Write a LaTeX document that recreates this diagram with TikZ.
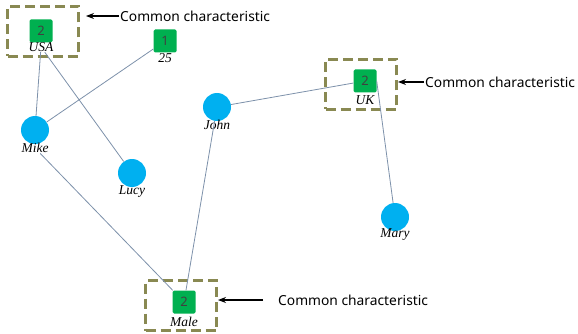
\documentclass[tikz,border=0pt]{standalone}
\usepackage{fontspec}
\setmainfont{Liberation Serif}
\newfontfamily\notefont{Noto Sans}
\usetikzlibrary{positioning,arrows.meta}

\definecolor{pblue}{RGB}{0,176,240}
\definecolor{agreen}{RGB}{0,176,80}
\definecolor{olivebox}{RGB}{137,137,82}
\definecolor{linkgray}{RGB}{125,145,170}

\begin{document}
\begin{tikzpicture}[x=1pt,y=-1pt,node distance=18pt,on grid,
	person/.style={circle,fill=pblue,minimum size=28pt,inner sep=0pt},
	attr/.style={rectangle,rounded corners=1.5pt,fill=agreen,minimum size=23pt,inner sep=0pt,text=black!75,font=\notefont\fontsize{13}{13}\selectfont},
	tag/.style={inner sep=0.5pt,font=\itshape\fontsize{13.5}{13.5}\selectfont},
	common/.style={draw=olivebox,line width=3pt,dash pattern=on 10pt off 5pt,minimum width=71pt,minimum height=50pt},
	note/.style={anchor=west,inner sep=1pt,font=\notefont\fontsize{13.8}{13.8}\selectfont},
	link/.style={draw=linkgray,line width=0.8pt},
	arr/.style={-{Stealth[length=8pt,width=6pt]},line width=1.2pt}]
	\useasboundingbox (0,0) rectangle (578,334);
	% boxes round the shared values
	\node[common] (usabox) at (43,31.5) {};
	\node[common] (ukbox) at (361,84.5) {};
	\node[common] (malebox) at (181,305.5) {};
	% attribute values
	\node[attr] (usa) at (41,31) {2};
	\node[tag,below=16pt of usa] (usal) {USA};
	\node[attr] (age) at (165,41) {1};
	\node[tag,below=17pt of age] (agel) {25};
	\node[attr] (uk) at (365,81) {2};
	\node[tag,below=19pt of uk] (ukl) {UK};
	\node[attr] (male) at (184,302) {2};
	\node[tag,below=20pt of male] (malel) {Male};
	% people
	\node[person] (mike) at (35,130) {};
	\node[tag,below of=mike] (mikel) {Mike};
	\node[person] (lucy) at (132,173) {};
	\node[tag,below=19pt of lucy] (lucyl) {Lucy};
	\node[person] (john) at (217,107) {};
	\node[tag,below of=john] (johnl) {John};
	\node[person] (mary) at (395,217) {};
	\node[tag,below of=mary] (maryl) {Mary};
	\path[link] (usal) edge (mike)
		(usal) edge (lucy)
		(age) edge (mike)
		(mikel) edge (male)
		(john) edge (uk)
		(uk.east) edge (mary)
		(john) edge (male);
	% notes
	\node[note] (c1) at (119,16) {Common characteristic};
	\node[note] (c2) at (424,82) {Common characteristic};
	\node[note] (c3) at (277,300) {Common characteristic};
	\draw[arr,shorten >=6pt] (c1.west) -- (c1.west -| usabox.east);
	\draw[arr] (c2.west) -- (c2.west -| ukbox.east);
	\draw[arr,shorten <=14pt] (c3.west) -- (c3.west -| malebox.east);
\end{tikzpicture}
\end{document}
